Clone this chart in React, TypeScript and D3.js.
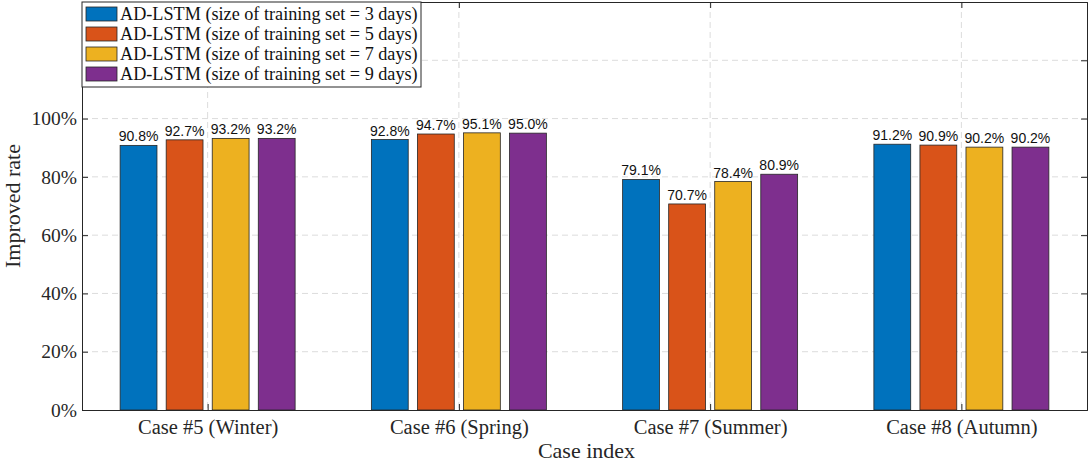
import { useRef, useEffect } from "react";
import { axisLeft, axisRight, axisTop, axisBottom, scaleBand, scaleLinear, select } from "d3";

const categories = ["Case #5 (Winter)", "Case #6 (Spring)", "Case #7 (Summer)", "Case #8 (Autumn)"];
const seriesNames = [
    "AD-LSTM (size of training set = 3 days)",
    "AD-LSTM (size of training set = 5 days)",
    "AD-LSTM (size of training set = 7 days)",
    "AD-LSTM (size of training set = 9 days)",
];
const days3 = [90.8, 92.8, 79.1, 91.2];
const days5 = [92.7, 94.7, 70.7, 90.9];
const days7 = [93.2, 95.1, 78.4, 90.2];
const days9 = [93.2, 95.0, 80.9, 90.2];
const yTicks = [0, 20, 40, 60, 80, 100];
const gridTicks = [0, 20, 40, 60, 80, 100, 120, 140];

const colors = ["#0072BD", "#D95319", "#EDB120", "#7E2F8E"];
const serif = "'Liberation Serif', serif";
const sans = "'Liberation Sans', Arial, sans-serif";

const margin = { top: 2, right: 1, bottom: 55, left: 82 };
const W = 1088;
const H = 465;
const width = W - margin.left - margin.right;
const height = H - margin.top - margin.bottom;

export default function App() {
    const leftRef = useRef<SVGGElement>(null);
    const rightRef = useRef<SVGGElement>(null);
    const topRef = useRef<SVGGElement>(null);
    const bottomRef = useRef<SVGGElement>(null);

    const series = [days3, days5, days7, days9];

    const x = scaleLinear().domain([0.5, 4.5]).range([0, width]);
    const inner = scaleBand<number>()
        .domain([0, 1, 2, 3])
        .range([-87.5, 87.5])
        .paddingInner(0.2);
    const y = scaleLinear().domain([0, 140]).range([height, 0]);
    const tickPos = categories.map((_, i) => i + 1);

    useEffect(() => {
        const style = (g: any, size: number) => {
            g.attr("font-family", serif).attr("font-size", size);
            g.select(".domain").attr("stroke", "#262626");
            g.selectAll(".tick line").attr("stroke", "#262626");
            g.selectAll(".tick text")
                .style("font-family", serif)
                .style("font-size", `${size}px`)
                .attr("fill", "#262626");
        };
        if (leftRef.current) {
            const g = select(leftRef.current);
            g.call(
                axisLeft(y)
                    .tickValues(yTicks)
                    .tickSize(-6)
                    .tickPadding(5)
                    .tickFormat((d) => `${d}%`)
            );
            style(g, 19.5);
        }
        if (rightRef.current) {
            const g = select(rightRef.current);
            g.call(axisRight(y).tickValues(gridTicks.slice(1, -1)).tickSize(-6).tickFormat(() => ""));
            style(g, 19);
        }
        if (topRef.current) {
            const g = select(topRef.current);
            g.call(axisTop(x).tickValues(tickPos).tickSize(-6).tickFormat(() => ""));
            style(g, 19);
        }
        if (bottomRef.current) {
            const g = select(bottomRef.current);
            g.call(
                axisBottom(x)
                    .tickValues(tickPos)
                    .tickSize(-6)
                    .tickPadding(9)
                    .tickFormat((d) => categories[(d as number) - 1])
            );
            style(g, 20.5);
        }
    }, []);

    return (
        <svg width={W} height={H} style={{ position: "absolute", left: 0, top: 0, background: "white" }}>
            <g transform={`translate(${margin.left}, ${margin.top})`}>
                {gridTicks.slice(1, -1).map((t) => (
                    <line
                        key={`gy-${t}`}
                        x1={0}
                        x2={width}
                        y1={y(t)}
                        y2={y(t)}
                        stroke="#dcdcdc"
                        strokeDasharray="6,4"
                    />
                ))}
                {tickPos.map((t) => (
                    <line
                        key={`gx-${t}`}
                        x1={x(t)}
                        x2={x(t)}
                        y1={0}
                        y2={height}
                        stroke="#dcdcdc"
                        strokeDasharray="6,4"
                    />
                ))}
                {series.map((vals, s) =>
                    vals.map((v, i) => {
                        const bx = x(i + 1) + (inner(s) as number);
                        return (
                            <g key={`bar-${s}-${i}`}>
                                <rect
                                    x={bx}
                                    y={y(v)}
                                    width={inner.bandwidth()}
                                    height={height - y(v)}
                                    fill={colors[s]}
                                    stroke="#262626"
                                    strokeWidth={0.8}
                                />
                                <text
                                    x={bx + inner.bandwidth() / 2}
                                    y={y(v) - 4}
                                    textAnchor="middle"
                                    fontFamily={sans}
                                    fontSize={14}
                                    fill="#111"
                                >
                                    {`${v.toFixed(1)}%`}
                                </text>
                            </g>
                        );
                    })
                )}
                <g ref={leftRef} />
                <g ref={rightRef} transform={`translate(${width}, 0)`} />
                <g ref={topRef} />
                <g ref={bottomRef} transform={`translate(0, ${height})`} />
                <text
                    transform={`translate(${-62}, ${height / 2}) rotate(-90)`}
                    textAnchor="middle"
                    style={{ fontFamily: serif, fontSize: "22px" }}
                    fill="#262626"
                >
                    Improved rate
                </text>
                <text
                    x={width / 2 + 2}
                    y={height + 48}
                    textAnchor="middle"
                    style={{ fontFamily: serif, fontSize: "22px" }}
                    fill="#262626"
                >
                    Case index
                </text>
                <g>
                    <rect x={0} y={0} width={339} height={85} fill="white" stroke="#262626" strokeWidth={1} />
                    {seriesNames.map((name, s) => (
                        <g key={`leg-${s}`} transform={`translate(4, ${5 + s * 20})`}>
                            <rect x={0} y={0} width={31} height={14} fill={colors[s]} stroke="#262626" strokeWidth={0.8} />
                            <text x={34} y={13} style={{ fontFamily: serif, fontSize: "18.2px" }} fill="#111">
                                {name}
                            </text>
                        </g>
                    ))}
                </g>
            </g>
        </svg>
    );
}
